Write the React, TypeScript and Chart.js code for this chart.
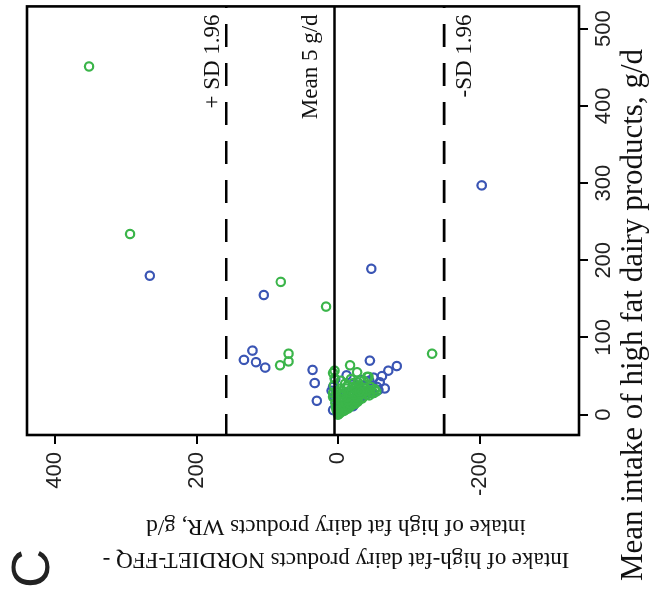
import React, { useEffect, useRef } from "react";
import { Chart, registerables } from "chart.js";

Chart.register(...registerables);

// Bland-Altman plot (figure is shown rotated 90° counter-clockwise)
const MEAN_TICKS = [0, 100, 200, 300, 400, 500];
const DIFF_TICKS = [-200, 0, 200, 400];
const MEAN_RANGE = [-26.3, 528.8];
const DIFF_RANGE = [-340.6, 439.6];

const MEAN_DIFF = 5;
const UPPER_LOA = 158;
const LOWER_LOA = -150;

const LABEL_MEAN = "Mean 5 g/d";
const LABEL_UPPER = "+ SD 1.96";
const LABEL_LOWER = "-SD 1.96";
const X_TITLE = "Mean intake of high fat dairy products, g/d";
const Y_TITLE_1 = "Intake of high-fat dairy products NORDIET-FFQ -";
const Y_TITLE_2 = "intake of high fat dairy products WR, g/d";
const PANEL = "C";

const BLUE_MEAN = [180, 297, 189, 155, 83, 71, 68, 61, 58, 41, 18, 51, 70, 57, 63, 42, 34, 36, 36, 29, 32, 6, 11, 13, 21, 26, 16, 23, 27, 19, 8, 39, 45, 46, 31, 3, 14, 28, 24, 48, 44, 50, 38, 33, 20, 10];
const BLUE_DIFF = [266, -203, -47, 105, 121, 133, 116, 103, 36, 33, 30, -12, -45, -71, -83, -59, -66, -55, 7, -43, -57, 7, -21, -17, -31, -40, 3, 5, -11, -9, -5, -21, -32, 4, 9, 1, -14, -48, -26, -50, -44, -62, -36, -30, -20, -2];

const GREEN_MEAN = [451, 234, 172, 140, 79, 79, 69, 64, 54, 64, 55, 49, 36, 23, 57, 47, 38, 28, 49, 2, 3, 5, 6, 8, 10, 12, 14, 16, 18, 20, 22, 24, 26, 28, 30, 32, 34, 20, 15, 10, 25, 28, 30, 26, 22, 18, 12, 4, 1, 7, 9, 13, 40, 44, 38, 36, 0, 17, 21, 33, 41, 46, 24, 31, 35, 3, 5, 6, 8, 9, 11, 12, 14, 15, 16, 17, 19, 19, 21, 23, 23, 25, 26, 27, 29, 29, 31, 33, 34, 27, 13, 9, 5, 24, 30, 42, 37, 44, 31];
const GREEN_DIFF = [352, 294, 81, 17, -133, 70, 70, 82, 7, -17, -27, -41, -26, 7, 5, 5, 6, 7, -43, 0, -2, -4, 2, -8, -6, -14, -10, -20, -4, -24, -16, -30, -8, -36, -22, -44, -12, -2, 4, 3, 2, -50, -54, -40, -34, -28, -2, 1, -1, -6, -12, -20, -10, -36, -30, -46, 0, -12, -8, -28, -22, -18, -18, -6, -38, -4, -8, -10, -14, -4, -18, -8, -24, -16, -6, -28, -22, -14, -34, -26, -12, -44, -22, -32, -46, -16, -40, -52, -24, -4, 0, 2, 0, -6, -30, -28, -14, -4, 2];

const BLUE = "#3a55b4";
const GREEN = "#3bb54a";
const SERIF = '"Liberation Serif", "Times New Roman", serif';
const SANS = '"Liberation Sans", Arial, sans-serif';

const overlay = {
  id: "overlay",
  afterDatasetsDraw(chart: any) {
    const { ctx, chartArea: a, scales } = chart;
    const y = scales.y;
    ctx.save();
    const hline = (val: number, dashed: boolean) => {
      const py = y.getPixelForValue(val);
      ctx.beginPath();
      ctx.lineWidth = 2.6;
      ctx.strokeStyle = "#000";
      ctx.setLineDash(dashed ? [23, 16] : []);
      ctx.lineDashOffset = 2;
      ctx.moveTo(a.left, py);
      ctx.lineTo(a.right, py);
      ctx.stroke();
    };
    hline(MEAN_DIFF, false);
    hline(UPPER_LOA, true);
    hline(LOWER_LOA, true);
    ctx.setLineDash([]);
    ctx.lineWidth = 2.6;
    ctx.strokeStyle = "#000";
    ctx.strokeRect(a.left, a.top, a.right - a.left, a.bottom - a.top);
    ctx.restore();
  },
  afterDraw(chart: any) {
    const { ctx, chartArea: a, scales } = chart;
    const y = scales.y;
    ctx.save();
    ctx.fillStyle = "#111";
    ctx.font = `23px ${SERIF}`;
    ctx.textAlign = "right";
    ctx.textBaseline = "alphabetic";
    const rx = a.right - 8;
    ctx.fillText(LABEL_UPPER, rx, y.getPixelForValue(UPPER_LOA) - 7);
    ctx.fillText(LABEL_MEAN, rx, y.getPixelForValue(MEAN_DIFF) - 17);
    ctx.fillText(LABEL_LOWER, rx, y.getPixelForValue(LOWER_LOA) + 27);
    ctx.font = `31px ${SERIF}`;
    ctx.textAlign = "center";
    ctx.textBaseline = "middle";
    ctx.fillText(X_TITLE, 289, 634);
    ctx.save();
    ctx.font = `23px ${SERIF}`;
    ctx.translate(45, 336);
    ctx.rotate(-Math.PI / 2);
    ctx.textAlign = "center";
    ctx.textBaseline = "middle";
    ctx.fillText(Y_TITLE_1, 0, 0);
    ctx.fillText(Y_TITLE_2, 0, 33);
    ctx.restore();
    ctx.font = `54px ${SANS}`;
    ctx.fillStyle = "#222";
    ctx.textAlign = "center";
    ctx.textBaseline = "alphabetic";
    ctx.fillText(PANEL, 35.5, 49);
    ctx.restore();
  },
};

export default function App() {
  const ref = useRef<HTMLCanvasElement>(null);
  useEffect(() => {
    const canvas = ref.current;
    if (!canvas) return;
    const tickFont = { family: SANS, size: 22 };
    const chart = new Chart(canvas, {
      type: "scatter",
      data: {
        datasets: [
          {
            label: "green",
            data: GREEN_MEAN.map((m, i) => ({ x: m, y: GREEN_DIFF[i] })),
            pointRadius: 4.2,
            pointBorderWidth: 2.2,
            pointBorderColor: GREEN,
            pointBackgroundColor: "rgba(0,0,0,0)",
            borderColor: GREEN,
            backgroundColor: "rgba(0,0,0,0)",
          },
          {
            label: "blue",
            data: BLUE_MEAN.map((m, i) => ({ x: m, y: BLUE_DIFF[i] })),
            pointRadius: 4.2,
            pointBorderWidth: 2.2,
            pointBorderColor: BLUE,
            pointBackgroundColor: "rgba(0,0,0,0)",
            borderColor: BLUE,
            backgroundColor: "rgba(0,0,0,0)",
          },
        ],
      },
      options: {
        responsive: false,
        animation: false,
        events: [],
        layout: { padding: { left: 0, top: 27, right: 2, bottom: 0 } },
        plugins: { legend: { display: false }, tooltip: { enabled: false } },
        scales: {
          x: {
            type: "linear",
            position: "bottom",
            min: MEAN_RANGE[0],
            max: MEAN_RANGE[1],
            afterBuildTicks: (s: any) => {
              s.ticks = MEAN_TICKS.map((v) => ({ value: v }));
            },
            afterFit: (s: any) => {
              s.height = 78;
            },
            ticks: { font: tickFont, color: "#222", padding: 3, maxRotation: 0, minRotation: 0, autoSkip: false },
            grid: { drawOnChartArea: false, drawTicks: true, tickLength: 9, color: "#000", lineWidth: 2 },
            border: { display: false },
          },
          y: {
            type: "linear",
            position: "left",
            min: DIFF_RANGE[0],
            max: DIFF_RANGE[1],
            afterBuildTicks: (s: any) => {
              s.ticks = DIFF_TICKS.map((v) => ({ value: v }));
            },
            afterFit: (s: any) => {
              s.width = 169;
            },
            ticks: { font: tickFont, color: "#222", padding: 8, autoSkip: false },
            grid: { drawOnChartArea: false, drawTicks: true, tickLength: 9, color: "#000", lineWidth: 2 },
            border: { display: false },
          },
        },
      },
      plugins: [overlay],
    } as any);
    return () => chart.destroy();
  }, []);

  return (
    <div style={{ position: "fixed", left: 0, top: 0, width: 657, height: 604, overflow: "hidden", background: "#fff" }}>
      <div
        style={{
          position: "absolute",
          left: 0,
          top: 0,
          width: 604,
          height: 657,
          transformOrigin: "0 0",
          transform: "translate(0px, 604px) rotate(-90deg)",
        }}
      >
        <canvas ref={ref} width={604} height={657} style={{ display: "block", width: 604, height: 657 }} />
      </div>
    </div>
  );
}
